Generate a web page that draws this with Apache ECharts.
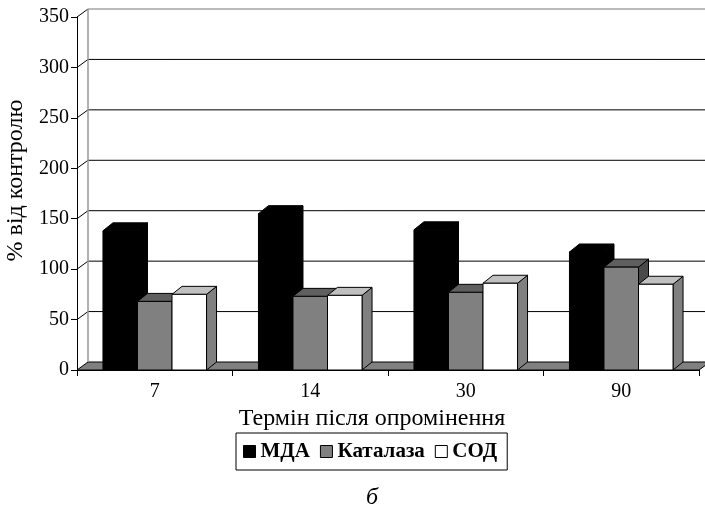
<!DOCTYPE html>
<html>
<head>
<meta charset="utf-8">
<script src="https://cdn.jsdelivr.net/npm/echarts@6/dist/echarts.min.js"></script>
<style>
  html, body { margin: 0; padding: 0; background: #fff; }
  #chart { width: 705px; height: 505px; }
</style>
</head>
<body>
<div id="chart"></div>
<script>
// Data: percentage of control after irradiation
const categories = ['7', '14', '30', '90'];
const mdaValues = [138, 155, 139, 117];
const catalaseValues = [68, 73, 77, 102];
const sodValues = [75, 74, 86, 85];
const yTickValues = [0, 50, 100, 150, 200, 250, 300, 350];
const seriesNames = ['МДА', 'Каталаза', 'СОД'];

const FONT = "'Liberation Serif', 'Times New Roman', serif";
// pseudo-3D depth offsets (pixels)
const WALL_DX = 11, WALL_DY = 8;
const BAR_DX = 10, BAR_DY = 8;
const BAR_FRACTION = 0.222;

const faceColors = [
  { front: '#000000', top: '#000000', side: '#000000' },
  { front: '#808080', top: '#5f5f5f', side: '#4a4a4a' },
  { front: '#ffffff', top: '#c0c0c0', side: '#808080' }
];

const yMax = yTickValues[yTickValues.length - 1];

// back wall gridlines, side wall diagonals and floor
function renderWall(params, api) {
  const v = api.value(1);
  const rect = params.coordSys;
  const y = api.coord([0, v])[1];
  const y0 = api.coord([0, 0])[1];
  const x0 = rect.x, x1 = rect.x + rect.width;
  const children = [];
  if (v === 0) {
    children.push({
      type: 'polygon',
      shape: { points: [[x0, y], [x1, y], [x1 + WALL_DX, y - WALL_DY], [x0 + WALL_DX, y - WALL_DY]] },
      style: { fill: '#808080', stroke: '#000', lineWidth: 1 }
    });
  } else {
    children.push({
      type: 'line',
      shape: { x1: x0 + WALL_DX, y1: y - WALL_DY, x2: x1 + WALL_DX, y2: y - WALL_DY },
      style: { stroke: v === yMax ? '#777' : '#000', lineWidth: 1 }
    });
    children.push({
      type: 'line',
      shape: { x1: x0, y1: y, x2: x0 + WALL_DX, y2: y - WALL_DY },
      style: { stroke: '#000', lineWidth: 1 }
    });
  }
  if (v === yMax) {
    children.push({
      type: 'line',
      shape: { x1: x0 + WALL_DX, y1: y0 - WALL_DY, x2: x0 + WALL_DX, y2: y - WALL_DY },
      style: { stroke: '#999', lineWidth: 1.5 }
    });
  }
  return { type: 'group', children: children };
}

// 3D-looking column: front face, top face and right side face
function makeBarRenderer(slot) {
  const c = faceColors[slot];
  return function (params, api) {
    const cat = api.value(0), val = api.value(1);
    const base = api.coord([cat, 0]);
    const top = api.coord([cat, val]);
    const band = api.size([1, 0])[0];
    const w = band * BAR_FRACTION;
    const xa = base[0] + (slot - 1.5) * w;
    const xb = xa + w;
    const yb = base[1], yt = top[1];
    const stroke = { stroke: '#000', lineWidth: 1, lineJoin: 'miter' };
    return {
      type: 'group',
      children: [
        {
          type: 'polygon',
          shape: { points: [[xb, yb], [xb + BAR_DX, yb - BAR_DY], [xb + BAR_DX, yt - BAR_DY], [xb, yt]] },
          style: Object.assign({ fill: c.side }, stroke)
        },
        {
          type: 'polygon',
          shape: { points: [[xa, yt], [xa + BAR_DX, yt - BAR_DY], [xb + BAR_DX, yt - BAR_DY], [xb, yt]] },
          style: Object.assign({ fill: c.top }, stroke)
        },
        {
          type: 'rect',
          shape: { x: xa, y: yt, width: w, height: yb - yt },
          style: Object.assign({ fill: c.front }, stroke)
        }
      ]
    };
  };
}

const valueSets = [mdaValues, catalaseValues, sodValues];

const barSeries = seriesNames.map(function (name, k) {
  return {
    name: name,
    type: 'custom',
    renderItem: makeBarRenderer(k),
    encode: { x: 0, y: 1 },
    itemStyle: { color: faceColors[k].front, borderColor: '#000', borderWidth: 1 },
    data: valueSets[k].map(function (v, i) { return [i, v]; }),
    z: 3 + k
  };
});

const chart = echarts.init(document.getElementById('chart'), null, { renderer: 'canvas' });

chart.setOption({
  backgroundColor: '#ffffff',
  animation: false,
  title: {
    text: 'б',
    left: 366,
    top: 486,
    padding: 0,
    textStyle: { fontFamily: FONT, fontStyle: 'italic', fontWeight: 'normal', fontSize: 24, color: '#000' }
  },
  grid: { left: 77, right: 6, top: 17, bottom: 135, containLabel: false, outerBoundsMode: 'none' },
  legend: {
    left: 236,
    top: 433,
    orient: 'horizontal',
    padding: [8, 10, 8, 7],
    itemGap: 10,
    itemWidth: 12,
    itemHeight: 12,
    borderColor: '#000',
    borderWidth: 1,
    textStyle: { fontFamily: FONT, fontWeight: 'bold', fontSize: 21, color: '#000' },
    data: seriesNames.map(function (n, k) {
      return { name: n, icon: 'rect', itemStyle: { color: faceColors[k].front, borderColor: '#000', borderWidth: 1 } };
    })
  },
  xAxis: {
    type: 'category',
    data: categories,
    boundaryGap: true,
    name: 'Термін після опромінення',
    nameLocation: 'middle',
    nameGap: 32,
    nameTextStyle: { fontFamily: FONT, fontSize: 24, color: '#000', padding: [0, 32, 0, 0] },
    axisLine: { show: true, lineStyle: { color: '#000', width: 1 } },
    axisTick: { show: true, alignWithLabel: false, length: 6, lineStyle: { color: '#000' } },
    axisLabel: { margin: 12, fontFamily: FONT, fontSize: 20, color: '#000' },
    splitLine: { show: false }
  },
  yAxis: {
    type: 'value',
    min: 0,
    max: 350,
    interval: 50,
    name: '% від контролю',
    nameLocation: 'middle',
    nameGap: 43,
    nameRotate: 90,
    nameTextStyle: { fontFamily: FONT, fontSize: 24, color: '#000', padding: [0, 0, 0, 26] },
    axisLine: { show: true, lineStyle: { color: '#000', width: 1 } },
    axisTick: { show: true, length: 6, lineStyle: { color: '#000' } },
    axisLabel: { margin: 8, fontFamily: FONT, fontSize: 20, color: '#000' },
    splitLine: { show: false }
  },
  series: [
    {
      name: 'walls',
      type: 'custom',
      renderItem: renderWall,
      encode: { x: 0, y: 1 },
      silent: true,
      data: yTickValues.map(function (v) { return [0, v]; }),
      z: 2
    }
  ].concat(barSeries)
});
</script>
</body>
</html>
